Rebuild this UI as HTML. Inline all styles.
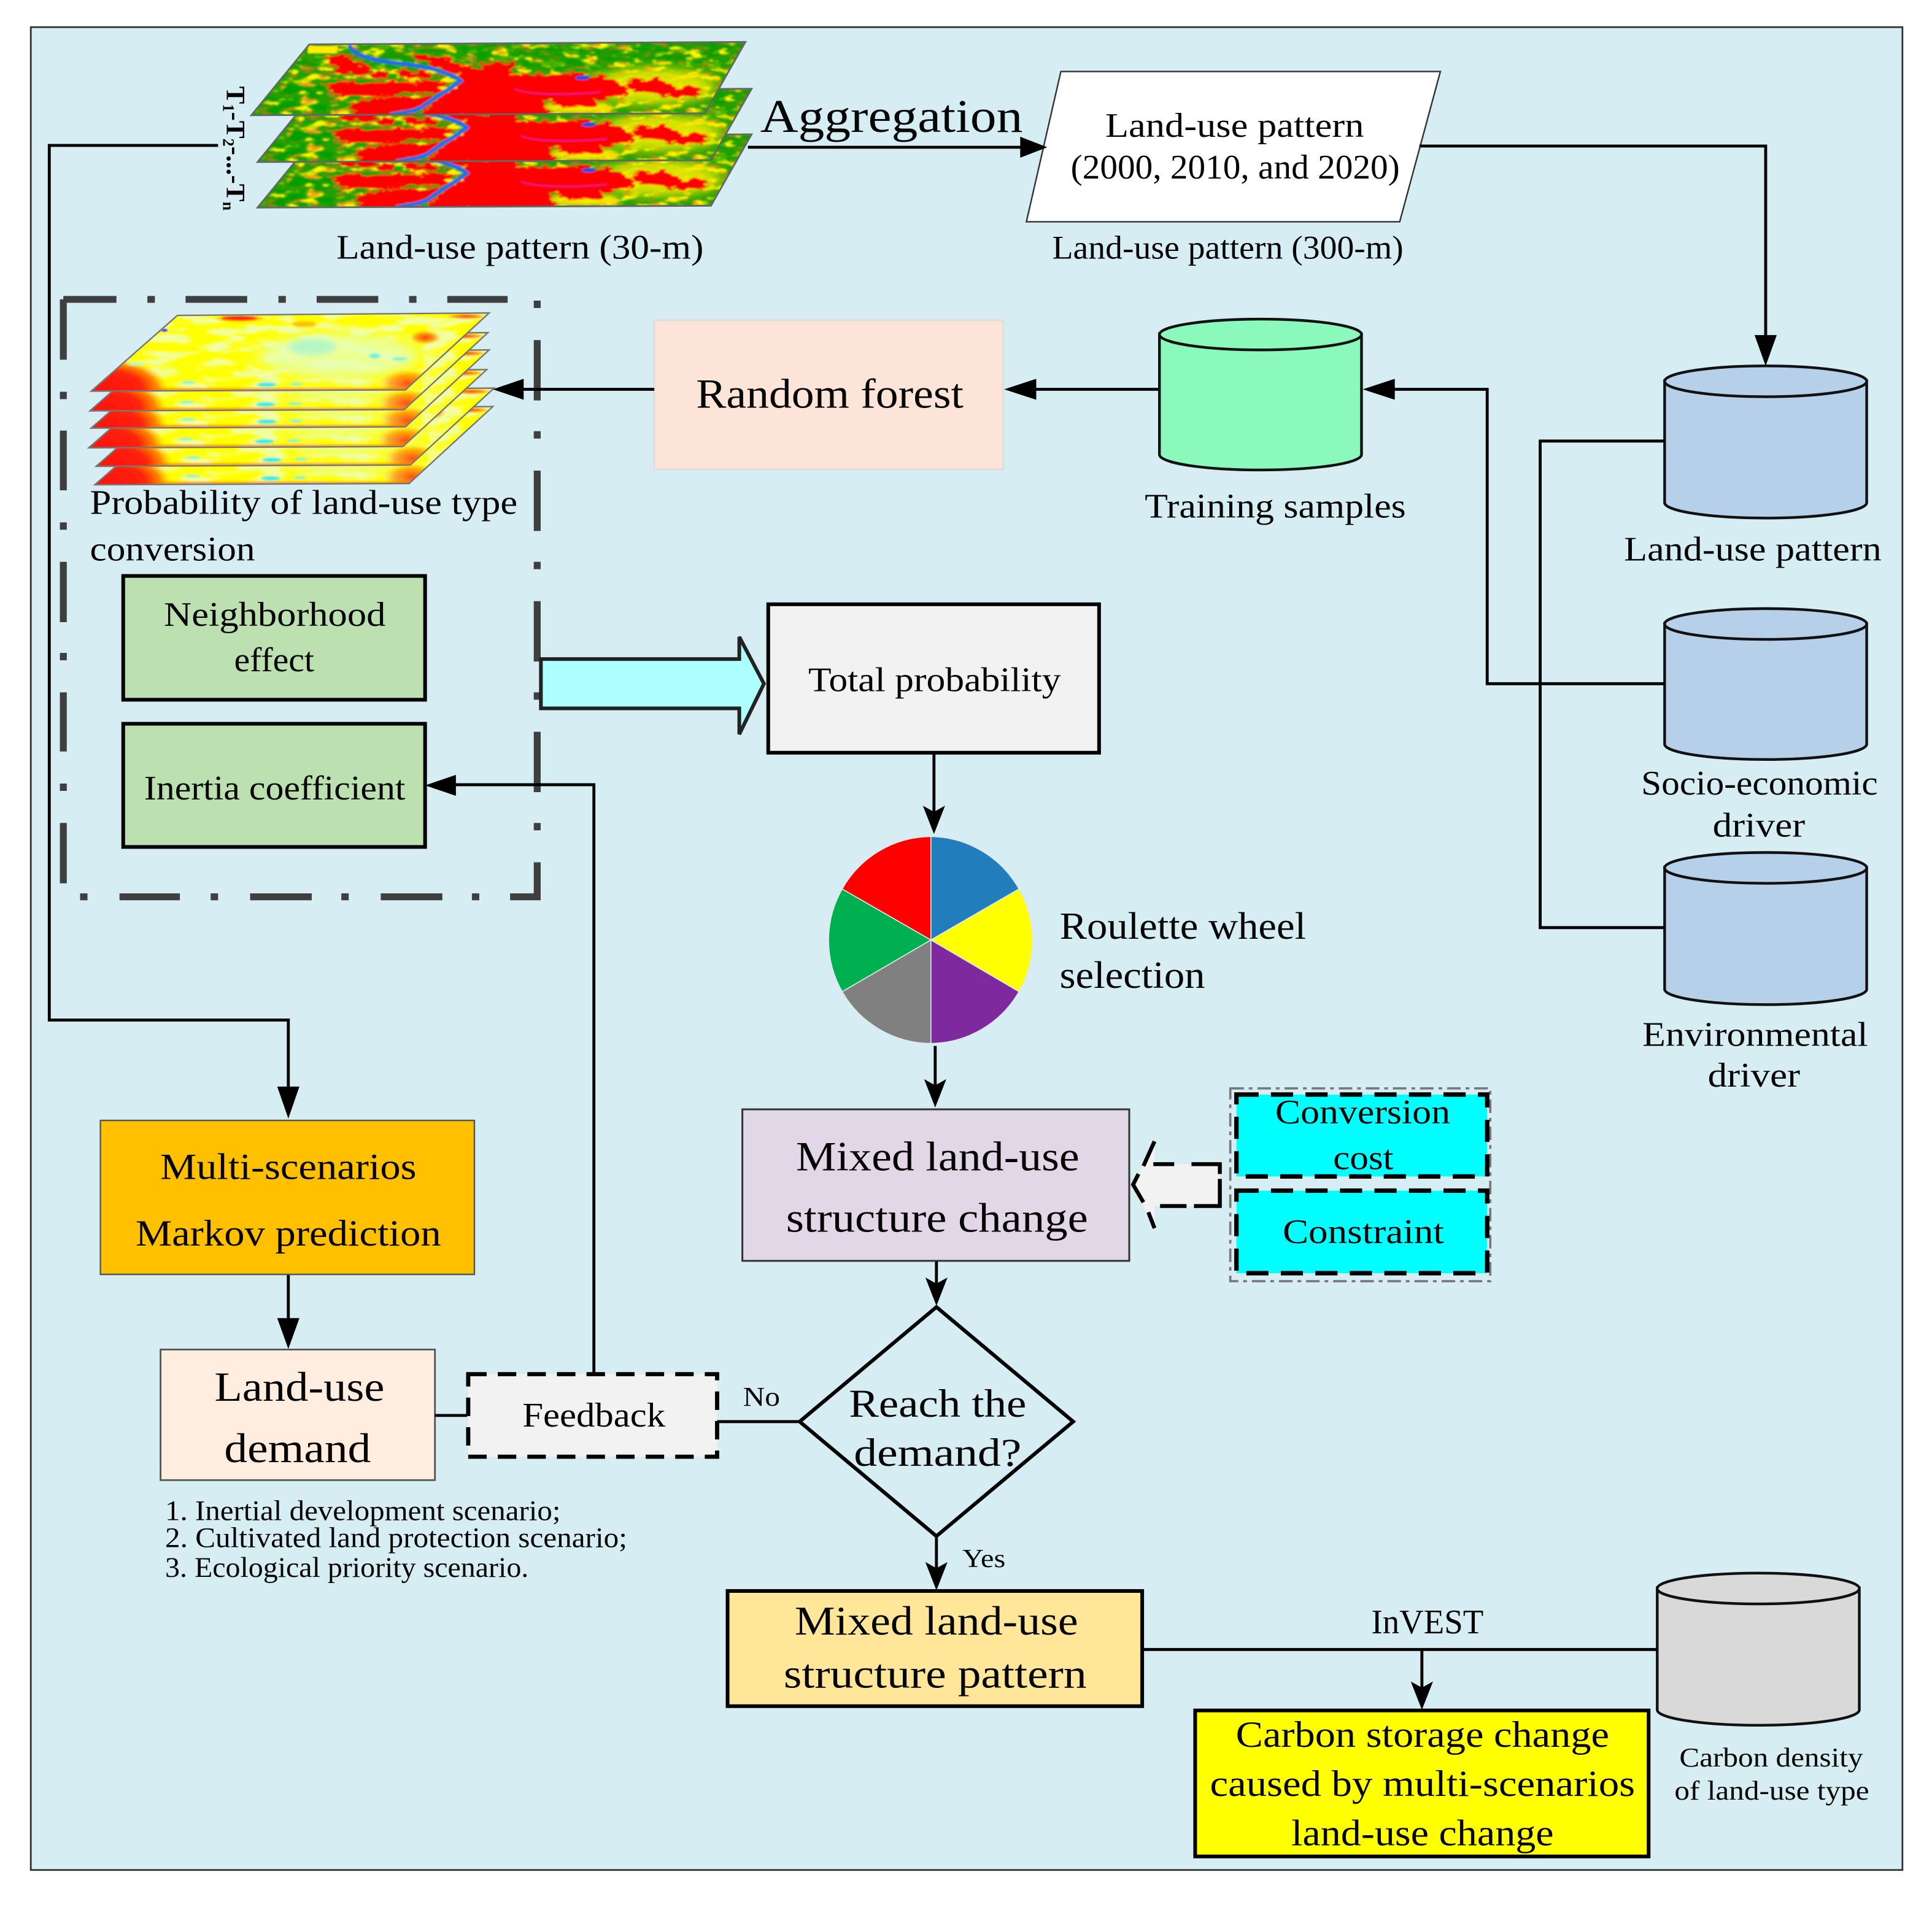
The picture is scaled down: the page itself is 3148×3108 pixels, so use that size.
<!DOCTYPE html>
<html><head><meta charset="utf-8"><title>Land-use simulation flow</title>
<style>
html,body{margin:0;padding:0;background:#fff}
svg{display:block}
text{font-family:"Liberation Serif",serif;fill:#050505}
</style></head><body>
<svg xmlns="http://www.w3.org/2000/svg" width="3148" height="3108" viewBox="0 0 1568 1548">
<defs>
<filter id="yel" x="0" y="0" width="1" height="1" color-interpolation-filters="sRGB"><feTurbulence type="fractalNoise" baseFrequency=".07 .2" numOctaves="3" seed="4"/><feColorMatrix values="0 0 0 0 .98  0 0 0 0 .96  0 0 0 0 0  7 0 0 0 -3.6"/></filter>
<filter id="org" x="0" y="0" width="1" height="1" color-interpolation-filters="sRGB"><feTurbulence type="fractalNoise" baseFrequency=".09 .24" numOctaves="2" seed="21"/><feColorMatrix values="0 0 0 0 .9  0 0 0 0 .45  0 0 0 0 .12  7 0 0 0 -3.8"/></filter>
<filter id="drk" x="0" y="0" width="1" height="1" color-interpolation-filters="sRGB"><feTurbulence type="fractalNoise" baseFrequency=".07 .2" numOctaves="2" seed="11"/><feColorMatrix values="0 0 0 0 0  0 0 0 0 .62  0 0 0 0 0  9 0 0 0 -4.2"/></filter>
<filter id="rough" x="-15%" y="-40%" width="130%" height="180%"><feTurbulence type="fractalNoise" baseFrequency=".03 .07" numOctaves="3" seed="7" result="t"/><feDisplacementMap in="SourceGraphic" in2="t" scale="55" xChannelSelector="R" yChannelSelector="G"/></filter>
<filter id="lt" x="0" y="0" width="1" height="1" color-interpolation-filters="sRGB"><feTurbulence type="fractalNoise" baseFrequency=".035 .14" numOctaves="3" seed="9"/><feColorMatrix values="0 0 0 0 .95  0 0 0 0 1  0 0 0 0 .62  5 0 0 0 -2.3"/></filter>
<filter id="bl" x="-50%" y="-50%" width="200%" height="200%"><feGaussianBlur stdDeviation="12"/></filter>
<filter id="bl2" x="-30%" y="-80%" width="160%" height="260%"><feGaussianBlur stdDeviation="3"/></filter>
<filter id="bl3" x="-5%" y="-5%" width="110%" height="110%"><feGaussianBlur stdDeviation=".7"/></filter>
<filter id="bl4" x="-40%" y="-40%" width="180%" height="180%"><feGaussianBlur stdDeviation="25"/></filter>
<clipPath id="mc"><polygon points="251,36 605,34 572,92 204,93.5"/></clipPath>
<clipPath id="hc"><polygon points="144,256 397,254 329,316.5 74,317.5"/></clipPath>
<radialGradient id="hr" cx=".5" cy=".5" r=".5"><stop offset="0" stop-color="#ff1408"/><stop offset=".58" stop-color="#ff2208"/><stop offset=".82" stop-color="#ff8a00"/><stop offset="1" stop-color="#ffd000" stop-opacity="0"/></radialGradient>
<radialGradient id="ho" cx=".5" cy=".5" r=".5"><stop offset="0" stop-color="#ff3a00"/><stop offset=".6" stop-color="#ff8a00" stop-opacity=".8"/><stop offset="1" stop-color="#ffc000" stop-opacity="0"/></radialGradient>
<g id="map">
 <g clip-path="url(#mc)">
  <g filter="url(#bl3)">
  <rect x="200" y="30" width="410" height="66" fill="#22a000"/>
  <rect x="200" y="30" width="410" height="66" filter="url(#yel)"/>
  <rect x="200" y="30" width="410" height="66" filter="url(#org)" opacity=".6"/>
  <rect x="200" y="30" width="410" height="26" filter="url(#drk)" opacity=".7"/>
  <rect x="205" y="66" width="60" height="30" filter="url(#drk)" opacity=".9"/>
  <g transform="translate(199.2,29.900) scale(.2668,.166)">
   <ellipse cx="1240" cy="240" rx="190" ry="90" fill="#f8f000" filter="url(#bl4)" opacity=".85"/>
   <ellipse cx="1010" cy="345" rx="110" ry="30" fill="#ffe800" filter="url(#bl)"/>
   <rect x="190" y="45" width="90" height="35" fill="#ffee00"/>
   <g fill="#ff0000" filter="url(#rough)">
    <path d="M235,95 300,85 350,130 385,155 355,190 290,185 265,145Z"/>
    <path d="M460,165 550,165 580,195 480,205Z"/>
    <path d="M390,165 440,165 430,205 390,205Z"/>
    <path d="M235,225 610,215 590,280 520,270 400,295 280,290Z"/>
    <path d="M320,320 420,295 570,285 550,350 440,390 330,385Z"/>
    <path d="M490,90 600,95 650,135 700,150 760,115 815,140 810,180 860,185 1000,180 1100,200 1165,240 1160,290 1070,305 905,310 930,395 520,400 590,290 660,215 610,170 560,135Z"/>
    <path d="M1160,215 1255,205 1300,240 1380,250 1370,300 1260,285 1165,250Z"/>
    <path d="M920,300 1060,300 1075,340 950,345Z"/>
   </g>
   <path d="M315,40C330,90 380,115 470,130 560,145 630,180 655,215 620,260 570,300 535,345 500,370 470,372 440,380" fill="none" stroke="#1a70e8" stroke-width="6.500" vector-effect="non-scaling-stroke"/>
   <ellipse cx="1025" cy="200" rx="22" ry="11" fill="#1a50e0"/>
   <path d="M820,255C860,285 980,285 1080,270" fill="none" stroke="#d820a0" stroke-width="1.800" vector-effect="non-scaling-stroke"/>
  </g>
  </g>
 </g>
 <polygon points="251,36 605,34 572,92 204,93.5" fill="none" stroke="#666" stroke-width="1.400"/>
</g>
<g id="heat">
 <g clip-path="url(#hc)">
  <g filter="url(#bl3)">
  <rect x="70" y="250" width="335" height="70" fill="#ffff05"/>
  <rect x="70" y="250" width="335" height="70" filter="url(#lt)"/>
  <g transform="translate(69.700,249) scale(.216,.166)">
   <ellipse cx="950" cy="240" rx="300" ry="110" fill="#e6ffb8" filter="url(#bl4)" opacity=".8"/>
   <ellipse cx="850" cy="195" rx="90" ry="40" fill="#a8f5d0" filter="url(#bl)" opacity=".8"/>
   <ellipse cx="70" cy="400" rx="240" ry="150" fill="url(#hr)"/>
   <ellipse cx="1210" cy="375" rx="110" ry="70" fill="url(#ho)" opacity=".9"/>
   <rect x="260" y="398" width="950" height="14" fill="#ff7000" opacity=".75" filter="url(#bl2)"/>
   <ellipse cx="580" cy="58" rx="105" ry="17" fill="url(#ho)"/>
   <ellipse cx="575" cy="55" rx="65" ry="10" fill="#ff2010" filter="url(#bl2)"/>
   <ellipse cx="1430" cy="47" rx="80" ry="15" fill="url(#ho)"/>
   <ellipse cx="1275" cy="150" rx="60" ry="35" fill="url(#ho)"/>
   <ellipse cx="820" cy="85" rx="45" ry="14" fill="#ffc000" filter="url(#bl2)"/>
   <ellipse cx="680" cy="381" rx="36" ry="10" fill="#30e8f0" filter="url(#bl2)"/>
   <ellipse cx="790" cy="378" rx="25" ry="7" fill="#80f0e0" filter="url(#bl2)"/>
   <ellipse cx="385" cy="370" rx="28" ry="7" fill="#90f0d8" filter="url(#bl2)"/>
   <ellipse cx="1085" cy="240" rx="20" ry="12" fill="#70f0e8" filter="url(#bl2)"/>
   <ellipse cx="1180" cy="255" rx="30" ry="7" fill="#70f0e8" filter="url(#bl2)"/>
   <ellipse cx="190" cy="280" rx="35" ry="8" fill="#c0f5c0" filter="url(#bl2)"/>
   <ellipse cx="295" cy="115" rx="13" ry="8" fill="#2020e0"/>
  </g>
  </g>
 </g>
 <polygon points="144,256 397,254 329,316.5 74,317.5" fill="none" stroke="#777" stroke-width="1.200"/>
</g>
</defs>

<rect width="1568" height="1548" fill="#fff"/>
<rect x="25" y="22" width="1519" height="1496" fill="#d5edf3" stroke="#333" stroke-width="1.4"/>

<!-- map stack -->
<use href="#map" transform="translate(5,75)"/>
<use href="#map" transform="translate(5,38)"/>
<use href="#map"/>

<!-- heat stack -->
<use href="#heat" transform="translate(3,76)"/>
<use href="#heat" transform="translate(4,61)"/>
<use href="#heat" transform="translate(-2,46)"/>
<use href="#heat" transform="translate(0,30)"/>
<use href="#heat" transform="translate(-1,16)"/>
<use href="#heat"/>

<!-- dash-dot group frame -->
<path fill="none" stroke="#3f3f3f" stroke-width="5.6" d="M51.4,243H94.5M119.6,243H125.7M150.6,243H200.6M226,243H232M257,243H307M332,243H338M363,243H412M436,244V250M436,276V325M436,350V356M436,382V431M436,456V462M436,488V537M436,562V568M436,594V643M436,668V674M436,700V728H414M389,728H383M359,728H309M283,728H277M253,728H203M177,728H171M146,728H97M71,728H65M51.4,717V668M51.4,642V636M51.4,610V562M51.4,536V530M51.4,505V456M51.4,430V424M51.4,398V349.5M51.4,324V318M51.4,292V243"/>

<!-- process boxes -->
<polygon points="861,58 1169,58 1136,180 833,180" fill="#fff" stroke="#333" stroke-width="1.2"/>
<rect x="531" y="260" width="283" height="121" fill="#fde4d8" stroke="#dfdcd8" stroke-width="1.2"/>
<rect x="100" y="467.500" width="245" height="100.500" fill="#bce0b0" stroke="#000" stroke-width="3"/>
<rect x="100" y="587.500" width="245" height="100" fill="#bce0b0" stroke="#000" stroke-width="3"/>
<rect x="623.500" y="490.500" width="268.500" height="120.500" fill="#f2f2f2" stroke="#000" stroke-width="3"/>
<polygon points="439,535 600,535 600,517 620,555 600,596 600,575 439,575" fill="#aeffff" stroke="#222" stroke-width="3"/>

<!-- cylinders -->
<g stroke="#111" stroke-width="2.2">
 <path d="M941,271V369A82,12.500 0 0 0 1105,369V271Z" fill="#8af9bb"/><ellipse cx="1023" cy="271.500" rx="82" ry="12.500" fill="#8af9bb"/>
 <path d="M1351,309V408A82,12.500 0 0 0 1515,408V309Z" fill="#b7d0ea"/><ellipse cx="1433" cy="309.500" rx="82" ry="12.500" fill="#b7d0ea"/>
 <path d="M1351,506V604A82,12.500 0 0 0 1515,604V506Z" fill="#b7d0ea"/><ellipse cx="1433" cy="506.500" rx="82" ry="12.500" fill="#b7d0ea"/>
 <path d="M1351,704V803A82,12.500 0 0 0 1515,803V704Z" fill="#b7d0ea"/><ellipse cx="1433" cy="704.500" rx="82" ry="12.500" fill="#b7d0ea"/>
 <path d="M1345,1289V1388A82,12.500 0 0 0 1509,1388V1289Z" fill="#d9d9d9"/><ellipse cx="1427" cy="1289.500" rx="82" ry="12.500" fill="#d9d9d9"/>
</g>

<!-- wheel -->
<g stroke="#dfe8ea" stroke-width=".8">
 <path d="M755.500,763V679A83.500,84 0 0 1 827,721.600Z" fill="#217dbb"/>
 <path d="M755.500,763L827,721.600A83.500,84 0 0 1 827,805Z" fill="#ffff00"/>
 <path d="M755.500,763L827,805A83.500,84 0 0 1 755.500,847Z" fill="#7f299e"/>
 <path d="M755.500,763V847A83.500,84 0 0 1 683.500,805Z" fill="#808080"/>
 <path d="M755.500,763L683.500,805A83.500,84 0 0 1 683.500,721.600Z" fill="#00b050"/>
 <path d="M755.500,763L683.500,721.600A83.500,84 0 0 1 755.500,679Z" fill="#ff0000"/>
</g>

<!-- mixed change and constraint -->
<rect x="602.500" y="900.500" width="314" height="123" fill="#e2d7e7" stroke="#333" stroke-width="1.5"/>
<rect x="998.500" y="883.500" width="211" height="156.500" fill="none" stroke="#777" stroke-width="1.8" stroke-dasharray="11 4 3 4"/>
<rect x="1003.500" y="888.500" width="203.500" height="66.500" fill="#00ffff" stroke="#000" stroke-width="3.600" stroke-dasharray="18 10"/>
<rect x="1003.500" y="966.500" width="203.500" height="67" fill="#00ffff" stroke="#000" stroke-width="3.600" stroke-dasharray="18 10"/>
<polygon points="920,962 937,927 937,945 990,945 990,979 937,979 937,998" fill="#f2f2f2"/>
<path d="M937,926.500L928,946.500M924,953L919.600,961.600 928,976M932,984L937,997M936,945H953M967,945H990V953M990,957V979H969M963,979H941.500" fill="none" stroke="#000" stroke-width="3.200"/>

<!-- lower left -->
<rect x="81.500" y="909.500" width="303.500" height="125" fill="#ffc000" stroke="#555" stroke-width="1.2"/>
<rect x="130.300" y="1095.500" width="222.700" height="106" fill="#ffeddf" stroke="#555" stroke-width="1.4"/>
<rect x="380" y="1115.500" width="202" height="67" fill="#f2f2f2" stroke="#000" stroke-width="3.400" stroke-dasharray="15 9"/>
<polygon points="760,1061 871,1154 760,1247 649,1154" fill="#d5edf3" stroke="#000" stroke-width="3"/>
<rect x="590.500" y="1291.500" width="336.500" height="93.500" fill="#ffe699" stroke="#000" stroke-width="3"/>
<rect x="970" y="1388.500" width="368" height="118.500" fill="#ffff00" stroke="#000" stroke-width="3"/>

<!-- connectors -->
<g fill="none" stroke="#000" stroke-width="2.4">
 <path d="M607,119.500H835"/>
 <path d="M1152,118.500H1433V275"/>
 <path d="M177,118H40V828H234V885"/>
 <path d="M531,316H422"/>
 <path d="M940,316H835"/>
 <path d="M1351,358H1250V753H1351"/>
 <path d="M1351,555H1207V316H1128"/>
 <path d="M758,611V660"/>
 <path d="M759,849V884"/>
 <path d="M760,1024V1044"/>
 <path d="M234,1035V1075"/>
 <path d="M353,1149H379"/>
 <path d="M482,1115V637H365"/>
 <path d="M582,1154H649"/>
 <path d="M760,1247V1275"/>
 <path d="M927,1339H1345"/>
 <path d="M1154,1339V1370"/>
</g>
<g fill="#000">
 <polygon points="850,119.500 828,111 828,128"/>
 <polygon points="1433,297 1424,272 1442,272"/>
 <polygon points="234,908 225,882 243,882"/>
 <polygon points="400,316 425,307.500 425,324.500"/>
 <polygon points="815,316 841,307.500 841,324.500"/>
 <polygon points="1106,316 1132,307.500 1132,324.500"/>
 <polygon points="758,677 749,654 758,659 767,654"/>
 <polygon points="759,899 750,876 759,881 768,876"/>
 <polygon points="760,1060 751,1037 760,1042 769,1037"/>
 <polygon points="234,1095 225,1070 243,1070"/>
 <polygon points="345,637.500 370,629 370,646"/>
 <polygon points="760,1291 751,1268 760,1273 769,1268"/>
 <polygon points="1154,1388 1145,1365 1154,1370 1163,1365"/>
</g>

<!-- labels -->
<text transform="translate(184,70) rotate(90)" font-size="21.500" font-weight="bold">T<tspan font-size="13" dy="3">1</tspan><tspan dy="-3">-T</tspan><tspan font-size="13" dy="3">2</tspan><tspan dy="-3">-...-T</tspan><tspan font-size="13" dy="3">n</tspan></text>
<text x="273" y="210" font-size="28" textLength="298" lengthAdjust="spacingAndGlyphs">Land-use pattern (30-m)</text>
<text x="617" y="107" font-size="38" textLength="213" lengthAdjust="spacingAndGlyphs">Aggregation</text>
<text x="897" y="111" font-size="28" textLength="210" lengthAdjust="spacingAndGlyphs">Land-use pattern</text>
<text x="869" y="145" font-size="28" textLength="267" lengthAdjust="spacingAndGlyphs">(2000, 2010, and 2020)</text>
<text x="854" y="210" font-size="27" textLength="285" lengthAdjust="spacingAndGlyphs">Land-use pattern (300-m)</text>
<text x="565" y="331" font-size="34" textLength="217" lengthAdjust="spacingAndGlyphs">Random forest</text>
<text x="929" y="420" font-size="28" textLength="212" lengthAdjust="spacingAndGlyphs">Training samples</text>
<text x="1318" y="455" font-size="28" textLength="209" lengthAdjust="spacingAndGlyphs">Land-use pattern</text>
<text x="73" y="417" font-size="28" textLength="347" lengthAdjust="spacingAndGlyphs">Probability of land-use type</text>
<text x="73" y="455" font-size="28" textLength="134" lengthAdjust="spacingAndGlyphs">conversion</text>
<text x="133" y="508" font-size="28" textLength="180" lengthAdjust="spacingAndGlyphs">Neighborhood</text>
<text x="190" y="545" font-size="28" textLength="65" lengthAdjust="spacingAndGlyphs">effect</text>
<text x="117" y="649" font-size="28" textLength="212" lengthAdjust="spacingAndGlyphs">Inertia coefficient</text>
<text x="656" y="561" font-size="28" textLength="205" lengthAdjust="spacingAndGlyphs">Total probability</text>
<text x="1332" y="645" font-size="28" textLength="192" lengthAdjust="spacingAndGlyphs">Socio-economic</text>
<text x="1390" y="679" font-size="28" textLength="75" lengthAdjust="spacingAndGlyphs">driver</text>
<text x="1333" y="849" font-size="28" textLength="183" lengthAdjust="spacingAndGlyphs">Environmental</text>
<text x="1386" y="882" font-size="28" textLength="75" lengthAdjust="spacingAndGlyphs">driver</text>
<text x="860" y="762" font-size="31" textLength="200" lengthAdjust="spacingAndGlyphs">Roulette wheel</text>
<text x="860" y="802" font-size="31" textLength="118" lengthAdjust="spacingAndGlyphs">selection</text>
<text x="646" y="950" font-size="34" textLength="230" lengthAdjust="spacingAndGlyphs">Mixed land-use</text>
<text x="638" y="1000" font-size="34" textLength="245" lengthAdjust="spacingAndGlyphs">structure change</text>
<text x="1035" y="912" font-size="28" textLength="142" lengthAdjust="spacingAndGlyphs">Conversion</text>
<text x="1082" y="949" font-size="28" textLength="49" lengthAdjust="spacingAndGlyphs">cost</text>
<text x="1041" y="1009" font-size="28" textLength="131" lengthAdjust="spacingAndGlyphs">Constraint</text>
<text x="130" y="957" font-size="30" textLength="208" lengthAdjust="spacingAndGlyphs">Multi-scenarios</text>
<text x="110" y="1011" font-size="30" textLength="248" lengthAdjust="spacingAndGlyphs">Markov prediction</text>
<text x="174" y="1137" font-size="34" textLength="138" lengthAdjust="spacingAndGlyphs">Land-use</text>
<text x="182" y="1187" font-size="34" textLength="119" lengthAdjust="spacingAndGlyphs">demand</text>
<text x="424" y="1158" font-size="28" textLength="116" lengthAdjust="spacingAndGlyphs">Feedback</text>
<text x="603" y="1141" font-size="22" textLength="30" lengthAdjust="spacingAndGlyphs">No</text>
<text x="689" y="1150" font-size="32" textLength="144" lengthAdjust="spacingAndGlyphs">Reach the</text>
<text x="693" y="1190" font-size="32" textLength="136" lengthAdjust="spacingAndGlyphs">demand?</text>
<text x="781" y="1272" font-size="21" textLength="35" lengthAdjust="spacingAndGlyphs">Yes</text>
<text x="134" y="1234" font-size="23" textLength="321" lengthAdjust="spacingAndGlyphs">1. Inertial development scenario;</text>
<text x="134" y="1256" font-size="23" textLength="375" lengthAdjust="spacingAndGlyphs">2. Cultivated land protection scenario;</text>
<text x="134" y="1280" font-size="23" textLength="295" lengthAdjust="spacingAndGlyphs">3. Ecological priority scenario.</text>
<text x="645" y="1327" font-size="33" textLength="230" lengthAdjust="spacingAndGlyphs">Mixed land-use</text>
<text x="636" y="1370" font-size="33" textLength="246" lengthAdjust="spacingAndGlyphs">structure pattern</text>
<text x="1113" y="1326" font-size="28" textLength="91" lengthAdjust="spacingAndGlyphs">InVEST</text>
<text x="1003" y="1418" font-size="30" textLength="303" lengthAdjust="spacingAndGlyphs">Carbon storage change</text>
<text x="982" y="1458" font-size="30" textLength="345" lengthAdjust="spacingAndGlyphs">caused by multi-scenarios</text>
<text x="1048" y="1498" font-size="30" textLength="213" lengthAdjust="spacingAndGlyphs">land-use change</text>
<text x="1363" y="1434" font-size="22" textLength="149" lengthAdjust="spacingAndGlyphs">Carbon density</text>
<text x="1359" y="1461" font-size="22" textLength="158" lengthAdjust="spacingAndGlyphs">of land-use type</text>
</svg>
</body></html>
